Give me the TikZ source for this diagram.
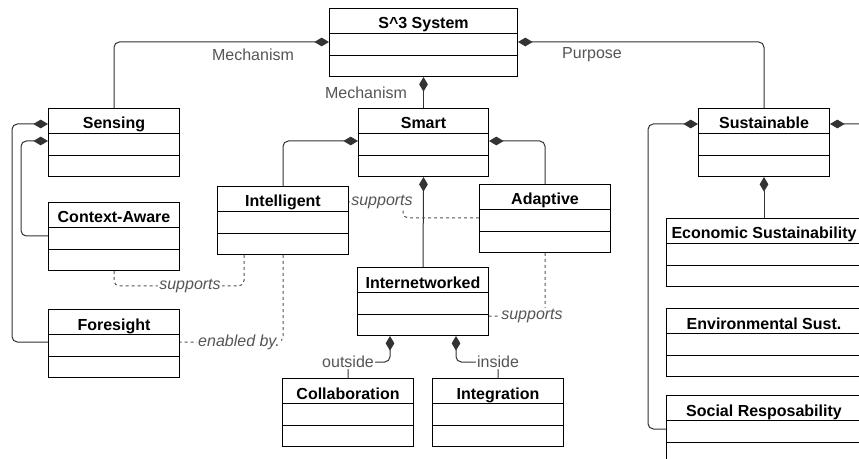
\documentclass[tikz,border=0pt]{standalone}
\usepackage{fontspec}
\setmainfont{Liberation Sans}
\usetikzlibrary{arrows.meta,shapes.multipart}
\definecolor{linegray}{HTML}{333333}
\definecolor{textgray}{HTML}{555555}
\newcommand{\umlclass}[5]{\node[umlbox,minimum width=#4*0.75pt] (#1) at (#2,#3) {\rule[-3pt]{0pt}{18pt}#5\nodepart{two}\rule{0pt}{15.75pt}\nodepart{three}\rule{0pt}{15pt}};}
\begin{document}
\begin{tikzpicture}[x=0.75pt,y=-0.75pt,
	umlbox/.style={draw=black,line width=0.75pt,fill=white,anchor=north west,rectangle split,rectangle split parts=3,rectangle split draw splits,inner xsep=2pt,inner ysep=0pt,font=\fontsize{12}{14}\selectfont\bfseries},
	comp/.style={draw=linegray,line width=0.75pt,rounded corners=4pt,{Diamond[length=11pt,width=6.5pt]}-},
	dep/.style={draw=textgray,line width=0.75pt,dash pattern=on 2.25pt off 2.25pt,rounded corners=4pt},
	lbl/.style={text=textgray,fill=white,inner sep=1pt,font=\fontsize{12}{14}\selectfont},
	sup/.style={lbl,font=\fontsize{12}{14}\selectfont\itshape}]
	\clip (0,0) rectangle (859,459);
	
	\umlclass{sys}{329}{8}{188}{S\textasciicircum 3 System}
	\umlclass{sensing}{48}{108}{131}{Sensing}
	\umlclass{smart}{358}{108}{130}{Smart}
	\umlclass{sust}{698}{108}{131}{Sustainable}
	\umlclass{context}{48}{202}{131}{Context-Aware}
	\umlclass{intel}{217}{186}{131}{Intelligent}
	\umlclass{adapt}{479}{184}{131}{Adaptive}
	\umlclass{inet}{357}{267}{131}{Internetworked}
	\umlclass{foresight}{48}{309}{131}{Foresight}
	\umlclass{collab}{282}{378}{131}{Collaboration}
	\umlclass{integ}{432}{378}{131}{Integration}
	\umlclass{econ}{666}{218}{195}{Economic Sustainability}
	\umlclass{env}{666}{308}{195}{Environmental Sust.}
	\umlclass{social}{666}{395}{195}{Social Resposability}
	
	\draw[comp] (sys.west |- 0,42) -| (sensing.north);
	\draw[comp] (sys.south) -- (smart.north);
	\draw[comp] (sys.east |- 0,42) -| (sust.north);
	\node[lbl] (mech1) at (253,55) {Mechanism};
	\node[lbl] (mech2) at (366,93) {Mechanism};
	\node[lbl] (purp) at (592,55) {Purpose};
	
	\draw[comp] (sensing.west |- 0,124) -- (12,124) |- (foresight.west |- 0,342);
	\draw[comp] (sensing.west |- 0,141) -- (21,141) |- (context.west |- 0,236);
	\draw[comp] (smart.west |- 0,141) -| (intel.north);
	\draw[comp] (smart.east |- 0,141) -| (adapt.north);
	\draw[comp] (smart.south) -- (inet.north);
	\draw[comp] (inet.south -| 390,0) -- (390,362) -| node[lbl,pos=0.5] {outside} (collab.north);
	\draw[comp] (inet.south -| 456,0) -- (456,362) -| node[lbl,pos=0.5] {inside} (integ.north);
	\draw[comp] (sust.south) -- (econ.north);
	\draw[comp] (sust.west |- 0,124) -- (648,124) |- (social.west |- 0,429);
	\draw[comp] (sust.east |- 0,124) -- (900,124) |- (env.east |- 0,343);
	
	\draw[dep] (context.south) |- (190,286) node[sup] {supports} -| (intel.south -| 244,0);
	\draw[dep] (intel.south) |- (239,342) node[sup] {enabled by.} -- (foresight.east |- 0,342);
	\draw[dep] (intel.east |- 0,202) -- (382,202) node[sup] {supports} -- (403,202) |- (adapt.west |- 0,218);
	\draw[dep] (adapt.south) |- (532,316) node[sup] {supports} -- (inet.east |- 0,316);
\end{tikzpicture}
\end{document}
